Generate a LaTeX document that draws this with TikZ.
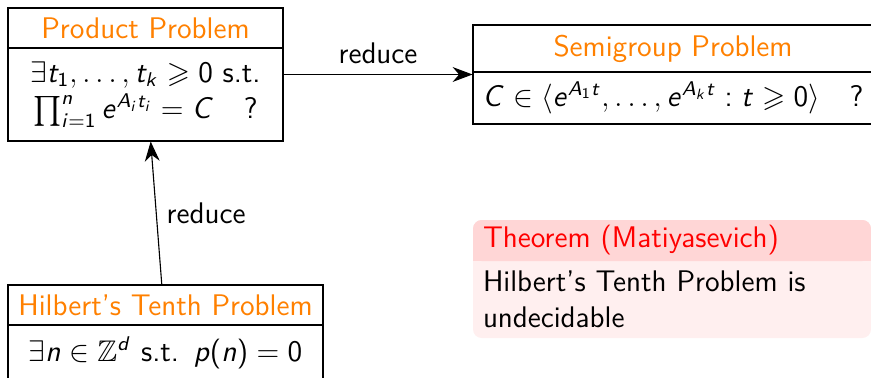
\documentclass[12pt,tikz,border=0pt]{standalone}
\usepackage{amsmath}
\usepackage{amssymb}
\usepackage{xcolor}
\usepackage{tikz}
\usetikzlibrary{arrows.meta,positioning,fit,backgrounds}

\renewcommand{\familydefault}{\sfdefault}
% sans serif math, as on the slides
\DeclareSymbolFont{operators}{OT1}{cmss}{m}{n}
\DeclareSymbolFont{sfslanted}{OT1}{cmss}{m}{sl}
\DeclareMathSymbol{A}{\mathalpha}{sfslanted}{`A}
\DeclareMathSymbol{C}{\mathalpha}{sfslanted}{`C}
\DeclareMathSymbol{d}{\mathalpha}{sfslanted}{`d}
\DeclareMathSymbol{e}{\mathalpha}{sfslanted}{`e}
\DeclareMathSymbol{i}{\mathalpha}{sfslanted}{`i}
\DeclareMathSymbol{k}{\mathalpha}{sfslanted}{`k}
\DeclareMathSymbol{n}{\mathalpha}{sfslanted}{`n}
\DeclareMathSymbol{p}{\mathalpha}{sfslanted}{`p}
\DeclareMathSymbol{t}{\mathalpha}{sfslanted}{`t}

\definecolor{probcolor}{RGB}{255,128,0}
\definecolor{thmhead}{RGB}{255,214,214}
\definecolor{thmbody}{RGB}{255,239,239}

\newlength{\px}
\setlength{\px}{0.4023pt}

\begin{document}
\begin{tikzpicture}[x=\px, y=-\px,
      ptitle/.style={draw, line width=0.6pt, text=probcolor, inner sep=0pt, outer sep=0pt},
      pbody/.style={draw, line width=0.6pt, align=center, inner sep=0pt, outer sep=0pt},
      thmline/.style={align=left, inner xsep=10*\px, inner ysep=0pt, outer sep=0pt,
                      text width=378*\px, anchor=north west},
      ar/.style={-{Stealth[length=8pt, width=6pt]}, line width=0.45pt}
    ]
    \useasboundingbox (0,0) rectangle (871,377);
    \clip (0,0) rectangle (871,377);

    \node[ptitle, minimum width=275*\px, minimum height=40*\px, anchor=north west] (prodtitle) at (8,8) {Product Problem};
    \node[pbody, minimum width=275*\px, minimum height=93*\px, below=0pt of prodtitle] (prodbody)
         {$\exists t_1,\ldots,t_k \geqslant 0$ s.t.\\ $\prod_{i=1}^n e^{A_i t_i} = C \quad ?$};
    \node[fit=(prodtitle)(prodbody), inner sep=0pt] (product) {};

    \node[ptitle, minimum width=400*\px, minimum height=47*\px, anchor=north west] (semititle) at (473,25) {Semigroup Problem};
    \node[pbody, minimum width=400*\px, minimum height=52*\px, below=0pt of semititle] (semibody)
         {$C \in \langle e^{A_1 t},\ldots,e^{A_k t} : t \geqslant 0\rangle \quad ?$};
    \node[fit=(semititle)(semibody), inner sep=0pt] (semigroup) {};

    \node[ptitle, minimum width=315*\px, minimum height=40*\px, anchor=north west] (hilbtitle) at (8,285) {Hilbert's Tenth Problem};
    \node[pbody, minimum width=315*\px, minimum height=55*\px, below=0pt of hilbtitle] (hilbbody)
         {$\exists n \in \mathbb{Z}^d$ s.t.\ \,$p(n) = 0$};
    \node[fit=(hilbtitle)(hilbbody), inner sep=0pt] (hilbert) {};

    \draw[ar] (product) -- node[above] {reduce} (semigroup);
    \draw[ar] (hilbert) -- node[right] {reduce} (product);

    % theorem block
    \node[thmline, text=red, minimum height=41*\px] (thm) at (473,220) {Theorem (Matiyasevich)};
    \node[thmline, minimum height=77*\px, below=0pt of thm] (thmtext) {Hilbert's Tenth Problem is\\undecidable};
    \begin{scope}[on background layer]
      \fill[thmbody, rounded corners=3.5pt] (thm.north west) rectangle (thmtext.south east);
      \fill[thmhead, rounded corners=3.5pt] (thm.north west) rectangle (thm.south east);
      \fill[thmhead] (thm.west) rectangle (thm.south east);
    \end{scope}
  \end{tikzpicture}
\end{document}
